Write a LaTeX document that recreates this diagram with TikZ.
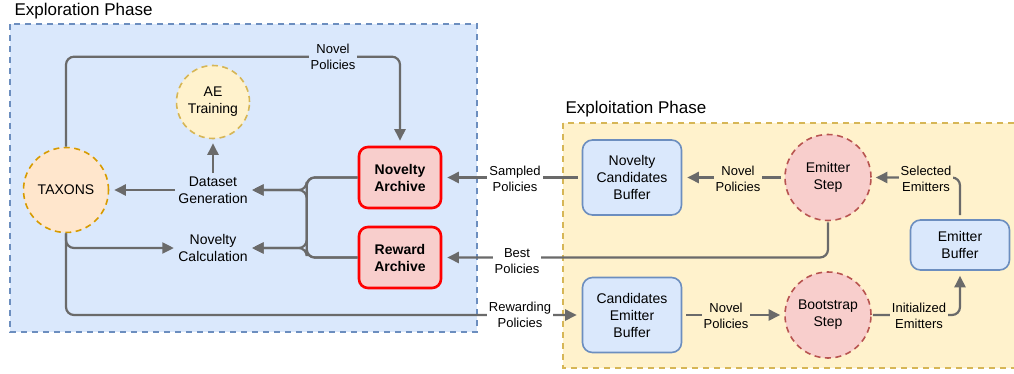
\documentclass[tikz,border=0pt]{standalone}
\usepackage{fontspec}
\setmainfont{Liberation Sans}
\usetikzlibrary{arrows.meta, positioning}
\definecolor{exploreblue}{HTML}{DAE8FC}
\definecolor{exploreedge}{HTML}{6C8EBF}
\definecolor{exploityellow}{HTML}{FFF2CC}
\definecolor{exploitedge}{HTML}{D6B656}
\definecolor{archivefill}{HTML}{F8CECC}
\definecolor{stepedge}{HTML}{B85450}
\definecolor{taxonsfill}{HTML}{FFE6CC}
\definecolor{taxonsedge}{HTML}{D79B00}
\definecolor{linegrey}{HTML}{6A6A6A}

\begin{document}
\begin{tikzpicture}[x=1pt, y=-1pt,
  nodefont/.style={font=\fontsize{14}{17}\selectfont, align=center},
  lblfont/.style={font=\fontsize{13}{15.5}\selectfont, align=center, inner sep=2pt},
  phase/.style={draw, dashed, dash pattern=on 6pt off 5pt, line width=1.6pt},
  archive/.style={nodefont, font=\fontsize{14}{17}\selectfont\bfseries, draw=red, line width=2.6pt,
    fill=archivefill, rounded corners=9pt, minimum width=82pt, minimum height=61pt},
  buffer/.style={nodefont, draw=exploreedge, line width=1.6pt, fill=exploreblue,
    rounded corners=10pt, minimum width=99pt, minimum height=75pt},
  stepcircle/.style={nodefont, circle, draw=stepedge, fill=archivefill, line width=1.6pt,
    dashed, dash pattern=on 6pt off 4.5pt, minimum size=86pt, inner sep=0pt},
  flow/.style={draw=linegrey, line width=2.2pt, rounded corners=8pt,
    -{Triangle[length=11.5pt,width=11pt]}, shorten >=5pt}]
  \clip (0,0) rectangle (1014,373);
  % Phase boxes
  \draw[phase, draw=exploreedge, fill=exploreblue] (10,24) rectangle (477,332);
  \draw[phase, draw=exploitedge, fill=exploityellow] (563,123) rectangle (1022,368);
  \node[anchor=west, font=\fontsize{17}{20}\selectfont] (explorettl) at (11,11) {Exploration Phase};
  \node[anchor=west, font=\fontsize{17}{20}\selectfont] (exploitttl) at (562,109) {Exploitation Phase};

  % Exploration nodes
  \node[nodefont, circle, draw=taxonsedge, fill=taxonsfill, line width=1.6pt, dashed,
    dash pattern=on 6pt off 4.5pt, minimum size=85pt, inner sep=0pt] (taxons) at (66,190) {TAXONS};
  \node[nodefont, circle, draw=exploitedge, fill=exploityellow, line width=1.6pt, dashed,
    dash pattern=on 6pt off 4.5pt, minimum size=73pt, inner sep=0pt] (ae) at (213,102) {AE\\Training};
  \node[nodefont] (dgen) at (213,190) {Dataset\\Generation};
  \node[nodefont] (ncalc) at (213,248) {Novelty\\Calculation};
  \node[archive] (narch) at (400,177.5) {Novelty\\Archive};
  \node[archive] (rarch) at (400,257.5) {Reward\\Archive};

  % Exploitation nodes
  \node[buffer] (ncb) at (632,177.5) {Novelty\\Candidates\\Buffer};
  \node[buffer] (ceb) at (632,315) {Candidates\\Emitter\\Buffer};
  \node[stepcircle] (es) at (828,177.5) {Emitter\\Step};
  \node[stepcircle] (bs) at (828,315) {Bootstrap\\Step};
  \node[buffer, minimum height=50pt] (eb) at (960,245) {Emitter\\Buffer};

  % Connectors
  \draw[flow] (taxons.north) -- ++(0,-90) -| (narch.north);
  \draw[flow] (dgen) -- (taxons);
  \draw[flow, shorten >=4pt] (dgen) -- (ae);
  \foreach \src in {narch, rarch} {
    \foreach \dst in {dgen, ncalc} {
      \draw[flow, shorten >=1pt] (\src.west) -- ++(-51,0) |- (\dst.east);
    }
  }
  \draw[flow, shorten >=1pt] (taxons.south) |- (ncalc.west);
  \draw[flow] (taxons.south) |- (ceb.west);
  \draw[flow, shorten <=4pt] (ncb) -- (narch);
  \draw[flow, shorten <=3pt] (es) -- (ncb);
  \draw[flow, shorten <=1pt] (es.south) |- (rarch.east);
  \draw[flow, shorten <=4pt, shorten >=4pt] (ceb) -- (bs);
  \draw[flow, shorten <=1pt] (bs.east) -| (eb.south);
  \draw[flow, shorten <=4pt, shorten >=4pt] (eb.north) |- (es.east);

  % Connector labels
  \node[lblfont, fill=exploreblue] (lblnovtop) at (333,57) {Novel\\Policies};
  \node[lblfont, fill=white] (lblsampled) at (515,179) {Sampled\\Policies};
  \node[lblfont, fill=white] (lblbest) at (517,261) {Best\\Policies};
  \node[lblfont, fill=white] (lblreward) at (520,315) {Rewarding\\Policies};
  \node[lblfont, fill=exploityellow] (lblnovesc) at (738,179) {Novel\\Policies};
  \node[lblfont, fill=exploityellow] (lblnovbs) at (726,316) {Novel\\Policies};
  \node[lblfont, fill=exploityellow] (lblselect) at (926,179) {Selected\\Emitters};
  \node[lblfont, fill=exploityellow] (lblinit) at (919,316) {Initialized\\Emitters};
\end{tikzpicture}
\end{document}
